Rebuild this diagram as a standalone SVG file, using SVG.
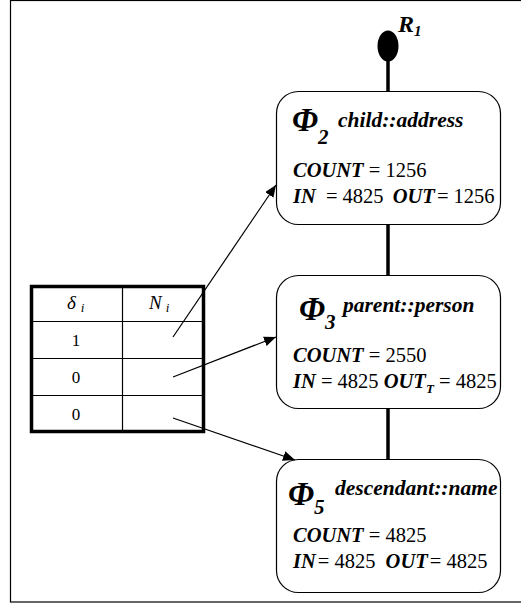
<svg xmlns="http://www.w3.org/2000/svg" width="521" height="604" viewBox="0 0 521 604">
<style>
text{font-family:Liberation Serif,Times New Roman,DejaVu Serif,serif}
.b{font-weight:bold;font-style:italic;fill:#000}
.r{font-weight:normal;font-style:normal}
.t{fill:#000}
.node{fill:#fff;stroke:#000;stroke-width:1.2}
.ln{stroke:#000;stroke-width:1.2;fill:none}
</style>
<defs>
<marker id="ah" viewBox="0 0 12 10" refX="12" refY="5" markerWidth="12" markerHeight="10" markerUnits="userSpaceOnUse" orient="auto">
<path d="M0,0 L12,5 L0,10 z" fill="#000"/>
</marker>
</defs>
<rect x="10.5" y="0.5" width="530" height="601.5" fill="#fff" stroke="#000" stroke-width="1.2"/>
<g id="R1">
<ellipse cx="388" cy="46" rx="10.5" ry="15.5" fill="#000"/>
<text class="b" x="398" y="32" font-size="24">R<tspan font-size="15" dy="4">1</tspan></text>
</g>
<g id="table">
<rect x="31.5" y="286.5" width="172" height="145" fill="#fff" stroke="#000" stroke-width="3.5"/>
<line x1="122.5" y1="286" x2="122.5" y2="431" class="ln"/>
<line x1="31" y1="321.5" x2="204" y2="321.5" class="ln"/>
<line x1="31" y1="358.5" x2="204" y2="358.5" class="ln"/>
<line x1="31" y1="395.5" x2="204" y2="395.5" class="ln"/>
<text class="t" x="67" y="309" font-style="italic" font-size="19">δ<tspan font-size="13" dx="5" dy="3">i</tspan></text>
<text class="t" x="149" y="309" font-style="italic" font-size="19">N<tspan font-size="13" dx="4" dy="3">i</tspan></text>
<text class="t" x="76" y="346" font-size="17" text-anchor="middle">1</text>
<text class="t" x="76" y="383" font-size="17" text-anchor="middle">0</text>
<text class="t" x="76" y="420" font-size="17" text-anchor="middle">0</text>
</g>
<g id="phi2">
<rect class="node" x="276.5" y="91.5" width="224" height="133" rx="22"/>
<text class="b" x="292" y="131" font-size="33">Φ<tspan font-size="21" dy="13">2</tspan></text>
<text class="b" x="338" y="127" font-size="21.5">child::address</text>
<text class="b" x="293" y="177" font-size="20.5">COUNT <tspan class="r">= 1256</tspan></text>
<text class="b" x="293" y="203" font-size="20.5">IN <tspan class="r" dx="5">= 4825</tspan> <tspan dx="4">OUT</tspan><tspan class="r" dx="2">= 1256</tspan></text>
</g>
<g id="phi3">
<rect class="node" x="276.5" y="275.5" width="224" height="133" rx="22"/>
<text class="b" x="299" y="320" font-size="33">Φ<tspan font-size="21" dy="9">3</tspan></text>
<text class="b" x="343" y="312" font-size="21.5">parent::person</text>
<text class="b" x="293" y="362" font-size="20.5">COUNT <tspan class="r">= 2550</tspan></text>
<text class="b" x="293" y="388" font-size="20.5">IN <tspan class="r">= 4825</tspan> OUT<tspan font-size="13" dy="5">T</tspan><tspan class="r" dy="-5"> = 4825</tspan></text>
</g>
<g id="phi5">
<rect class="node" x="276.5" y="459.5" width="224" height="133" rx="22"/>
<text class="b" x="288" y="505" font-size="33">Φ<tspan font-size="21" dy="9">5</tspan></text>
<text class="b" x="335" y="495" font-size="21.5">descendant::name</text>
<text class="b" x="293" y="542" font-size="20.5">COUNT <tspan class="r">= 4825</tspan></text>
<text class="b" x="293" y="568" font-size="20.5">IN<tspan class="r" dx="2">= 4825</tspan> <tspan dx="5">OUT</tspan><tspan class="r" dx="2">= 4825</tspan></text>
</g>
<g id="connectors">
<line x1="388" y1="60" x2="388" y2="91" stroke="#000" stroke-width="3.5"/>
<line x1="388" y1="224" x2="388" y2="275" stroke="#000" stroke-width="3.5"/>
<line x1="388" y1="408" x2="388" y2="459" stroke="#000" stroke-width="3.5"/>
<line x1="173" y1="337" x2="276" y2="185" class="ln" marker-end="url(#ah)"/>
<line x1="173" y1="377" x2="276" y2="337" class="ln" marker-end="url(#ah)"/>
<line x1="173" y1="418" x2="295" y2="460" class="ln" marker-end="url(#ah)"/>
</g>
</svg>
